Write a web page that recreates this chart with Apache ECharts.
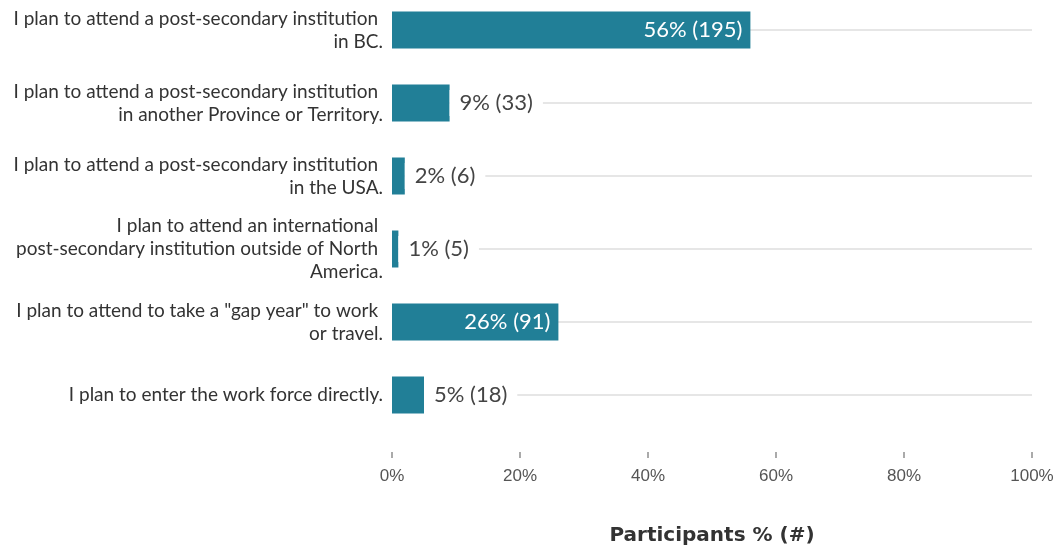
<!DOCTYPE html>
<html>
<head>
<meta charset="utf-8">
<script src="https://cdn.jsdelivr.net/npm/echarts@6/dist/echarts.min.js"></script>
<style>
  html, body { margin: 0; padding: 0; background: #fff; }
  #chart { width: 1056px; height: 546px; }
</style>
</head>
<body>
<div id="chart"></div>
<script>
// answers (top to bottom)
const categories = [
  'I plan to attend a post-secondary institution in BC.',
  'I plan to attend a post-secondary institution in another Province or Territory.',
  'I plan to attend a post-secondary institution in the USA.',
  'I plan to attend an international post-secondary institution outside of North America.',
  'I plan to attend to take a "gap year" to work or travel.',
  'I plan to enter the work force directly.'
];
// share of participants (%) and counts
const percents = [56, 9, 2, 1, 26, 5];
const counts = [195, 33, 6, 5, 91, 18];
const xTicks = [0, 20, 40, 60, 80, 100];

const barColor = '#217f97';

// big bars get their label inside, small ones outside
const barData = percents.map((p, i) => {
  const inside = p > 20;
  return {
    value: p,
    label: inside ? {
      position: 'insideRight',
      distance: 8,
      color: '#fff'
    } : {
      position: 'right',
      distance: 0,
      color: '#444',
      backgroundColor: '#fff',
      padding: [2, 10, 2, 10]
    }
  };
});

const chart = echarts.init(document.getElementById('chart'));
chart.setOption({
  animation: false,
  grid: { left: 392, right: 24, top: 30, bottom: 151, outerBoundsMode: 'none', containLabel: false },
  xAxis: {
    type: 'value',
    min: 0,
    max: 100,
    interval: 20,
    offset: 57,
    axisLine: { show: false },
    axisTick: { show: true, length: 6, lineStyle: { color: '#aaa', width: 2 } },
    splitLine: { show: false },
    axisLabel: {
      margin: 16,
      color: '#555',
      fontSize: 17,
      fontFamily: 'Liberation Sans, Arial, sans-serif',
      formatter: v => xTicks.includes(v) ? v + '%' : ''
    },
    name: 'Participants % (#)',
    nameLocation: 'middle',
    nameGap: 74,
    nameTextStyle: {
      color: '#333',
      fontSize: 20,
      fontWeight: 'bold',
      fontFamily: 'DejaVu Sans, sans-serif'
    }
  },
  yAxis: {
    type: 'category',
    inverse: true,
    boundaryGap: false,
    data: categories,
    axisLine: { show: false },
    axisTick: { show: false },
    splitLine: { show: true, lineStyle: { color: '#e6e6e6', width: 2 } },
    axisLabel: {
      margin: 9,
      color: '#333',
      fontSize: 19,
      lineHeight: 23,
      fontFamily: 'Lato, sans-serif',
      width: 375,
      overflow: 'break',
      align: 'right'
    }
  },
  series: [{
    type: 'bar',
    data: barData,
    barWidth: 37,
    itemStyle: { color: barColor },
    label: {
      show: true,
      fontSize: 22,
      fontFamily: 'Lato, sans-serif',
      formatter: p => percents[p.dataIndex] + '% (' + counts[p.dataIndex] + ')'
    }
  }]
});
</script>
</body>
</html>
